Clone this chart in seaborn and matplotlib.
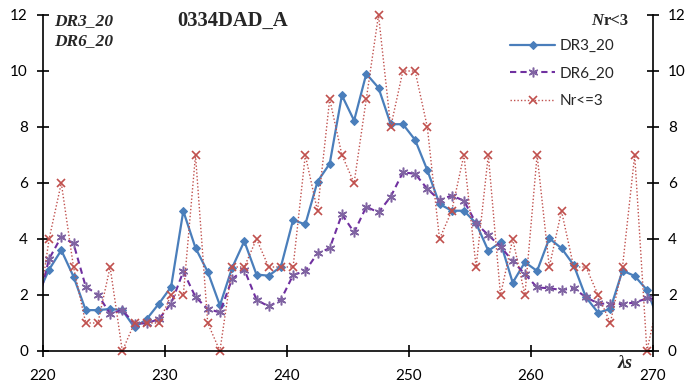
import matplotlib
matplotlib.use("Agg")
import matplotlib.pyplot as plt
from matplotlib.patches import Rectangle
import numpy as np
import seaborn as sns

# lambda_s sample positions (first and last lie just outside the visible axis range)
x_vals = [219.5 + i for i in range(52)]

dr3_20 = [1.95, 2.91, 3.60, 2.66, 1.46, 1.46, 1.50, 1.46, 0.84, 1.14, 1.69,
          2.29, 5.00, 3.68, 2.83, 1.63, 2.97, 3.92, 2.73, 2.69, 3.01,
          4.68, 4.52, 6.05, 6.69, 9.13, 8.23, 9.90, 9.40, 8.10, 8.10,
          7.54, 6.46, 5.25, 5.01, 5.01, 4.56, 3.58, 3.88, 2.44, 3.17,
          2.86, 4.02, 3.67, 3.07, 1.92, 1.37, 1.50, 2.87, 2.68, 2.18, 1.05]

dr6_20 = [1.55, 3.29, 4.08, 3.84, 2.30, 2.01, 1.33, 1.46, 0.97, 0.99, 1.14,
          1.69, 2.84, 1.93, 1.50, 1.38, 2.57, 2.91, 1.83, 1.59, 1.83,
          2.71, 2.86, 3.49, 3.67, 4.88, 4.24, 5.15, 4.95, 5.51, 6.38,
          6.33, 5.79, 5.39, 5.55, 5.37, 4.56, 4.14, 3.73, 3.21, 2.75,
          2.27, 2.24, 2.18, 2.24, 1.92, 1.70, 1.68, 1.68, 1.73, 1.88, 1.85]

nr_le3 = [1, 4, 6, 3, 1, 1, 3, 0, 1, 1, 1,
          2, 2, 7, 1, 0, 3, 3, 4, 3, 3,
          3, 7, 5, 9, 7, 6, 9, 12, 8, 10,
          10, 8, 4, 5, 7, 3, 7, 2, 4, 2,
          7, 3, 5, 3, 3, 2, 1, 3, 7, 0, 2]

x_ticks = [220, 230, 240, 250, 260, 270]
y_ticks = [0, 2, 4, 6, 8, 10, 12]

sns.set_style("white")
plt.rcParams['font.family'] = ['Lato', 'DejaVu Sans']

fig = plt.figure(figsize=(6.89, 3.83), dpi=100)
ax = fig.add_axes([43/689, 32/383, 610/689, 336/383])

blue = "#4A7EBB"
purple = "#7030A0"
purple_m = "#8064A2"
red = "#C0504D"

sns.lineplot(x=x_vals, y=dr3_20, ax=ax, color=blue, linewidth=1.6,
             marker="D", markersize=4.2, markeredgecolor=blue, markerfacecolor=blue,
             label="DR3_20", sort=False)
sns.lineplot(x=x_vals, y=dr6_20, ax=ax, color=purple, linewidth=1.5,
             linestyle=(0, (3, 2)), marker=(6, 2, 0), markersize=7,
             markeredgecolor=purple_m, markeredgewidth=1.1,
             label="DR6_20", sort=False)
sns.lineplot(x=x_vals, y=nr_le3, ax=ax, color=red, linewidth=1.0,
             linestyle=(0, (1, 1.5)), marker="x", markersize=5.5,
             markeredgecolor=red, markeredgewidth=1.2,
             label="Nr<=3", sort=False)

clip = Rectangle((0, -0.05), 1, 1.1, transform=ax.transAxes)
for ln in ax.get_lines():
    ln.set_clip_path(clip)

ax.set_xlim(220, 270)
ax.set_ylim(0, 12)
ax.set_xticks(x_ticks)
ax.set_yticks(y_ticks)
ax.set_xlabel("")
ax.set_ylabel("")

ax.spines["top"].set_visible(False)
for s in ["left", "right", "bottom"]:
    ax.spines[s].set_visible(True)
    ax.spines[s].set_color("black")
    ax.spines[s].set_linewidth(1.2)

ax.tick_params(axis="both", which="both", direction="inout", length=8.6, width=1.2,
               colors="black", labelsize=11)
ax.tick_params(axis="y", left=True, right=True, labelleft=True, labelright=True, pad=6.5)
ax.tick_params(axis="x", bottom=True, pad=8.5)

leg = ax.legend(loc="upper right", bbox_to_anchor=(0.936, 0.928), frameon=False,
                fontsize=11, handlelength=2.95, labelspacing=0.88, handletextpad=0.25,
                borderaxespad=0, borderpad=0)

serif = ["Liberation Serif", "DejaVu Serif"]
ax.text(0.019, 1.006, "DR3_20", transform=ax.transAxes, fontsize=12.5,
        family=serif, fontweight="bold", fontstyle="italic", va="top", ha="left")
ax.text(0.019, 0.946, "DR6_20", transform=ax.transAxes, fontsize=12.5,
        family=serif, fontweight="bold", fontstyle="italic", va="top", ha="left")
ax.text(0.3107, 1.012, "0334DAD_A", transform=ax.transAxes, fontsize=14.8,
        family=serif, fontweight="bold", va="top", ha="center")
t = ax.text(0.960, 1.006, "r<3", transform=ax.transAxes, fontsize=12,
            family=serif, fontweight="bold", va="top", ha="right")
ax.annotate("N", xy=(0, 0), xycoords=t, fontsize=12, family=serif,
            fontweight="bold", fontstyle="italic", va="bottom", ha="right")
ax.text(0.967, -0.012, "λs", transform=ax.transAxes, fontsize=13,
        family=serif, fontweight="bold", fontstyle="italic", va="top", ha="right")

fig.savefig("out.png", dpi=100)
